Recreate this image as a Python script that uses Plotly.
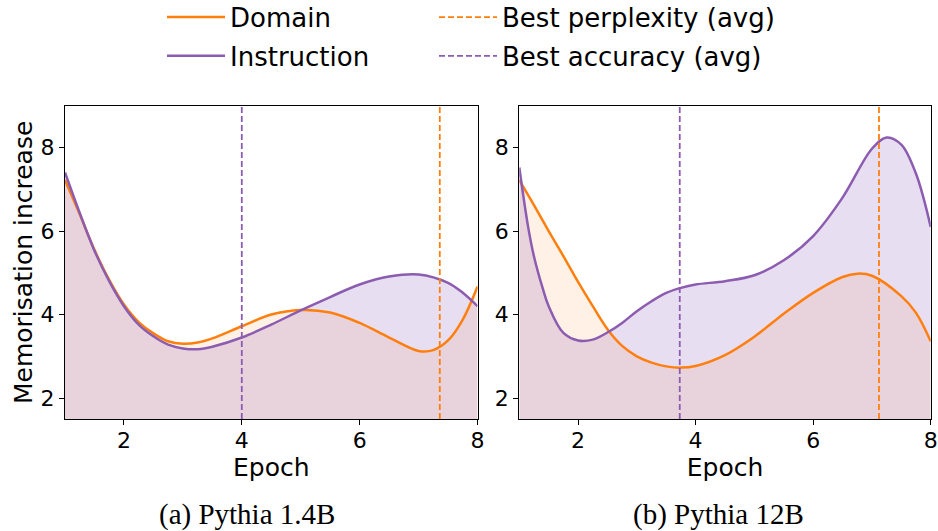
import plotly.graph_objects as go

# ---------------- data ----------------
epochs_a_domain = [1, 1.25, 1.5, 1.75, 2, 2.25, 2.5, 2.75, 3, 3.25, 3.5, 4, 4.5, 5, 5.5, 6, 6.5, 7, 7.25, 7.5, 7.75, 8]
mem_a_domain = [7.22, 6.40, 5.55, 4.83, 4.24, 3.82, 3.55, 3.36, 3.30, 3.33, 3.43, 3.72, 4.00, 4.11, 4.05, 3.80, 3.45, 3.13, 3.15, 3.38, 3.88, 4.67]

epochs_a_instr = [1, 1.25, 1.5, 1.75, 2, 2.25, 2.5, 2.75, 3, 3.25, 3.5, 4, 4.5, 5, 5.5, 6, 6.5, 7, 7.5, 7.75, 8]
mem_a_instr = [7.40, 6.43, 5.53, 4.80, 4.20, 3.76, 3.48, 3.28, 3.19, 3.17, 3.23, 3.45, 3.76, 4.10, 4.42, 4.72, 4.91, 4.96, 4.76, 4.52, 4.20]

epochs_b_domain = [1, 1.25, 1.5, 1.75, 2, 2.25, 2.5, 2.75, 3, 3.25, 3.5, 3.75, 4, 4.5, 5, 5.5, 6, 6.5, 6.75, 7, 7.5, 7.75, 8]
mem_b_domain = [7.22, 6.62, 6.00, 5.40, 4.78, 4.20, 3.65, 3.25, 3.00, 2.85, 2.76, 2.73, 2.77, 3.03, 3.47, 4.02, 4.52, 4.90, 4.98, 4.93, 4.44, 4.04, 3.36]

epochs_b_instr = [1, 1.15, 1.25, 1.4, 1.5, 1.75, 2, 2.25, 2.5, 2.75, 3, 3.25, 3.5, 3.75, 4, 4.5, 5, 5.5, 6, 6.5, 7, 7.25, 7.5, 7.75, 8]
mem_b_instr = [7.52, 6.10, 5.39, 4.62, 4.20, 3.56, 3.38, 3.40, 3.57, 3.80, 4.08, 4.32, 4.52, 4.64, 4.72, 4.80, 4.94, 5.30, 5.88, 6.80, 7.97, 8.24, 8.07, 7.37, 6.10]

best_perplexity = [7.36, 7.12]   # (a), (b)
best_accuracy = [4.0, 3.73]      # (a), (b)

captions = ["(a) Pythia 1.4B", "(b) Pythia 12B"]
x_ticks = [2, 4, 6, 8]
y_ticks = [2, 4, 6, 8]
x_range = [1, 8]
y_range = [1.5, 9]

ORANGE = "#ff7f0e"
PURPLE = "#8c5cb0"
FILL_O = "rgba(255,127,14,0.11)"
FILL_P = "rgba(148,103,189,0.22)"

W, H = 938, 531
fig = go.Figure()

panels = [
    ("x", "y", epochs_a_domain, mem_a_domain, epochs_a_instr, mem_a_instr, best_perplexity[0], best_accuracy[0]),
    ("x2", "y2", epochs_b_domain, mem_b_domain, epochs_b_instr, mem_b_instr, best_perplexity[1], best_accuracy[1]),
]

spl = dict(shape="spline", smoothing=1.0)
for i, (xa, ya, xd, yd, xi, yi, bp, ba) in enumerate(panels):
    first = i == 0
    # shaded areas (no legend entry)
    fig.add_trace(go.Scatter(x=xd, y=yd, mode="lines", line=dict(width=0, **spl),
                             fill="tozeroy", fillcolor=FILL_O, xaxis=xa, yaxis=ya,
                             showlegend=False, hoverinfo="skip"))
    fig.add_trace(go.Scatter(x=xi, y=yi, mode="lines", line=dict(width=0, **spl),
                             fill="tozeroy", fillcolor=FILL_P, xaxis=xa, yaxis=ya,
                             showlegend=False, hoverinfo="skip"))
    # lines
    fig.add_trace(go.Scatter(x=xd, y=yd, mode="lines", name="Domain",
                             line=dict(color=ORANGE, width=2.5, **spl), xaxis=xa, yaxis=ya,
                             legend="legend", legendgroup="dom", showlegend=first))
    fig.add_trace(go.Scatter(x=xi, y=yi, mode="lines", name="Instruction",
                             line=dict(color=PURPLE, width=2.5, **spl), xaxis=xa, yaxis=ya,
                             legend="legend", legendgroup="ins", showlegend=first))
    fig.add_trace(go.Scatter(x=[bp, bp], y=y_range, mode="lines", name="Best perplexity (avg)",
                             line=dict(color=ORANGE, width=1.8, dash="6px,3px"),
                             xaxis=xa, yaxis=ya, legend="legend2", legendgroup="bp", showlegend=first))
    fig.add_trace(go.Scatter(x=[ba, ba], y=y_range, mode="lines", name="Best accuracy (avg)",
                             line=dict(color=PURPLE, width=1.8, dash="6px,3px"),
                             xaxis=xa, yaxis=ya, legend="legend2", legendgroup="ba", showlegend=first))

tickfont = dict(family="DejaVu Sans", size=22, color="black")
axis_common = dict(range=x_range, tickvals=x_ticks, ticks="outside", ticklen=5, tickwidth=1.2,
                   tickcolor="black", showline=True, linecolor="black", linewidth=1.3, mirror=True,
                   showgrid=False, zeroline=False, tickfont=tickfont, ticklabelstandoff=-4,
                   title=dict(text="Epoch", font=dict(family="DejaVu Sans", size=25, color="black"), standoff=2))
yaxis_common = dict(range=y_range, tickvals=y_ticks, ticks="outside", ticklen=5, tickwidth=1.2,
                    tickcolor="black", showline=True, linecolor="black", linewidth=1.3, mirror=True,
                    showgrid=False, zeroline=False, tickfont=tickfont)

y_dom = [(H - 419) / H, (H - 105.7) / H]
legend_font = dict(family="DejaVu Sans", size=26, color="black")
fig.update_layout(
    width=W, height=H,
    margin=dict(l=0, r=0, t=0, b=0, autoexpand=False),
    paper_bgcolor="white", plot_bgcolor="white",
    font=dict(family="DejaVu Sans", color="black"),
    xaxis=dict(domain=[65 / W, 477.5 / W], anchor="y", **axis_common),
    xaxis2=dict(domain=[519.3 / W, 930.7 / W], anchor="y2", **axis_common),
    yaxis=dict(domain=y_dom, anchor="x",
               title=dict(text="Memorisation increase",
                          font=dict(family="DejaVu Sans", size=25, color="black"), standoff=0),
               **yaxis_common),
    yaxis2=dict(domain=y_dom, anchor="x2", **yaxis_common),
    legend=dict(x=162 / W, y=1.012, xanchor="left", yanchor="top", orientation="v",
                font=legend_font, itemwidth=58,
                bgcolor="rgba(0,0,0,0)", tracegroupgap=2),
    legend2=dict(x=434 / W, y=1.012, xanchor="left", yanchor="top", orientation="v",
                 font=legend_font, itemwidth=58,
                 bgcolor="rgba(0,0,0,0)", tracegroupgap=2),
    annotations=[
        dict(text=captions[0], x=247 / W, y=(H - 514) / H, xref="paper", yref="paper",
             xanchor="center", yanchor="middle", showarrow=False,
             font=dict(family="Liberation Serif", size=29, color="black")),
        dict(text=captions[1], x=718 / W, y=(H - 514) / H, xref="paper", yref="paper",
             xanchor="center", yanchor="middle", showarrow=False,
             font=dict(family="Liberation Serif", size=29, color="black")),
    ],
)

fig.write_html("out.html")
